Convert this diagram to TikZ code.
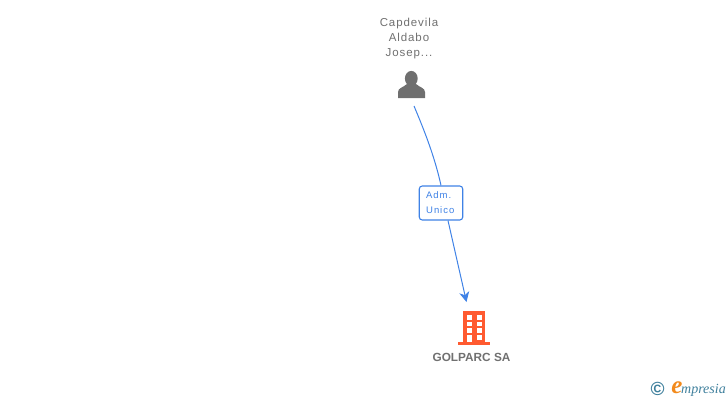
\documentclass[tikz,border=0pt]{standalone}
\usepackage{fontspec}
\setmainfont{Liberation Sans}
\newfontfamily\trackfont[LetterSpace=8]{Liberation Sans}
\newfontfamily\boxfont[LetterSpace=10]{Liberation Sans}
\newfontfamily\logofont{Liberation Serif}
\usetikzlibrary{arrows.meta}
\definecolor{greytext}{HTML}{707070}
\definecolor{icongrey}{HTML}{6F6F6F}
\definecolor{linkblue}{HTML}{3F82E6}
\definecolor{buildorange}{HTML}{FF5A30}
\definecolor{logoblue}{HTML}{3E7F9C}
\definecolor{logoorange}{HTML}{F28A1C}
\tikzset{
  namelabel/.style={inner sep=0pt,align=center,text=greytext,font=\trackfont\fontsize{11.5}{15}\selectfont},
  rolebox/.style={draw=linkblue,line width=1.1pt,rounded corners=3pt,fill=white,minimum width=43.5pt,minimum height=34pt,inner sep=0pt,align=left,text=linkblue,font=\boxfont\fontsize{9.5}{15}\selectfont},
  companylabel/.style={inner sep=0pt,text=greytext,font=\bfseries\fontsize{11.8}{14}\selectfont},
  link/.style={draw=linkblue,line width=1pt},
}
\begin{document}
\begin{tikzpicture}[x=1pt,y=-1pt]
\useasboundingbox (0,0) rectangle (728,400);
\node[namelabel] (person) at (409,38.5) {Capdevila\\Aldabo\\Josep...};
% person icon
\fill[icongrey] (411.3,78.5) ellipse (6.4pt and 7.6pt);
\fill[icongrey] (398,98) -- (398,92) .. controls (398,88) and (403,87.5) .. (407,84) -- (416,84) .. controls (420,87.5) and (425,88) .. (425,92) -- (425,98) -- cycle;
\coordinate (start) at (414,106);
\node[rolebox] (role) at (441,203) {\hspace*{-1.5pt}Adm.\\\hspace*{-1.5pt}Unico};
\coordinate (tip) at (466.5,302);
\draw[link] (start) .. controls (425,132) and (435,158) .. (role.north);
\draw[link,-{Stealth[length=10pt,width=10pt,inset=3pt]}] ([xshift=7pt]role.south) -- (tip);
% building
\fill[buildorange] (463.3,311) rectangle (485.3,342);
\fill[buildorange] (458,342) rectangle (490,344.5);
\foreach \yy in {315,321.5,328}{
  \fill[white] (466.5,\yy) rectangle ++(5,4.5);
  \fill[white] (476.5,\yy) rectangle ++(5,4.5);
}
\fill[white] (467,335) rectangle (471.8,342);
\fill[white] (476.5,335) rectangle ++(5,4.5);
\node[companylabel] (company) at (471.5,357) {GOLPARC SA};
% logo
\node[inner sep=0pt,text=logoblue,font=\bfseries\fontsize{19}{19}\selectfont] (copy) at (657.5,389) {©};
\node[inner sep=0pt,text=logoorange,font=\logofont\itshape\bfseries\fontsize{25}{25}\selectfont] (elogo) at (677,387.5) {e};
\node[inner sep=0pt,anchor=base west,text=logoblue,font=\logofont\itshape\fontsize{14}{14}\selectfont] (mlogo) at (681,393) {mpresia};
\end{tikzpicture}
\end{document}
